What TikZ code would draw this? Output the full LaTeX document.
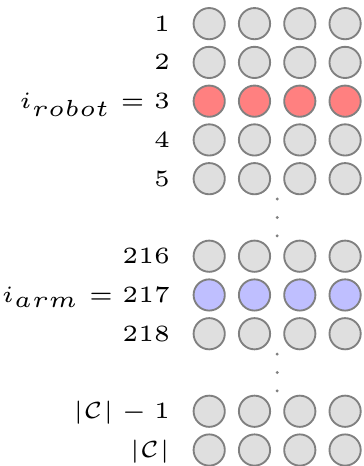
\documentclass[tikz,border=0pt]{standalone}
\begin{document}
\begin{tikzpicture}[x=0.2146pt,y=-0.2146pt,
  cell/.style={circle,draw=gray,line width=0.4pt,inner sep=0pt,minimum size=6.7pt},
  rowlabel/.style={anchor=base east,inner sep=0pt,font=\tiny},
  vdot/.style={circle,fill=gray,draw=none,inner sep=0pt,minimum size=0.7pt}]
\useasboundingbox (0,0) rectangle (364,466);
\foreach \k/\lab/\fc [count=\r] in {
  0/{1}/gray!25,
  1/{2}/gray!25,
  2/{i_{robot} = 3}/red!50,
  3/{4}/gray!25,
  4/{5}/gray!25,
  6/{216}/gray!25,
  7/{i_{arm} = 217}/blue!25,
  8/{218}/gray!25,
  10/{|\mathcal{C}| - 1}/gray!25,
  11/{|\mathcal{C}|}/gray!25}{
  \node[rowlabel] (lab\r) at (171,23.65+\k*38.76+7.5) {$\lab$};
  \foreach \c in {0,...,3}
    \node[cell,fill=\fc] (c\r-\c) at (209.2+\c*45.3,23.65+\k*38.76) {};
}
\foreach \m [count=\g] in {5,9}
  \foreach \o [count=\j] in {-18.4,0,18.4}
    \node[vdot] (dot\g-\j) at (277.2,23.65+\m*38.76+\o) {};
\end{tikzpicture}
\end{document}
